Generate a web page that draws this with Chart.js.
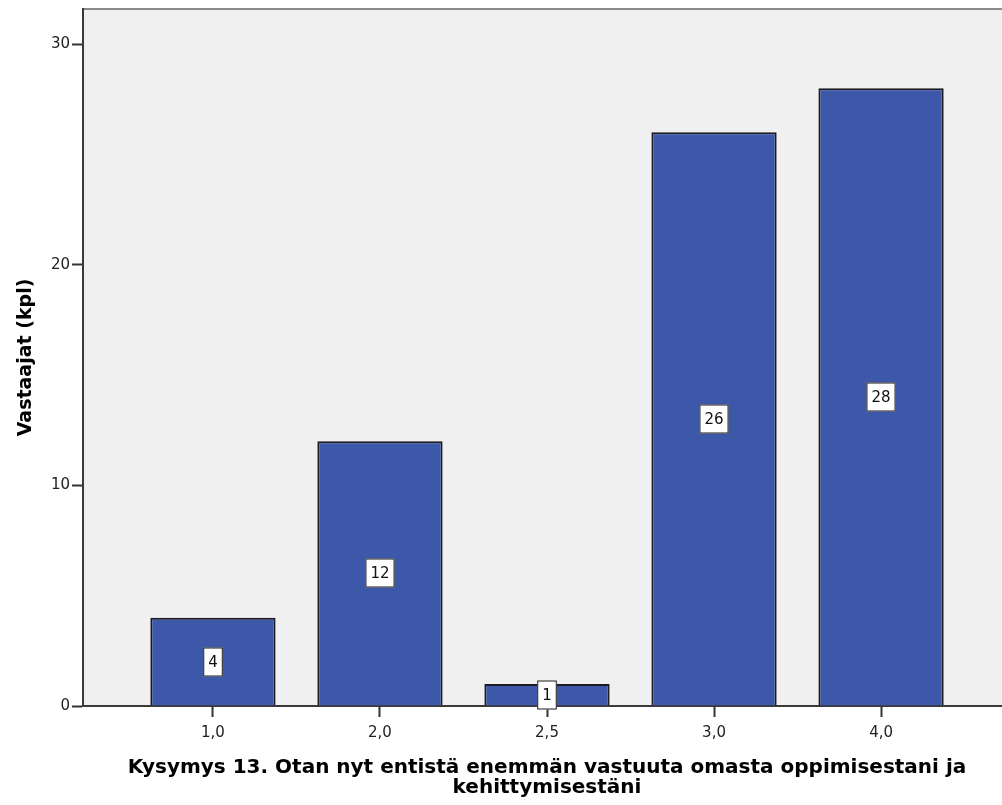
<!DOCTYPE html>
<html>
<head>
<meta charset="utf-8">
<script src="https://cdn.jsdelivr.net/npm/chart.js@4/dist/chart.umd.min.js"></script>
<style>
  html, body { margin: 0; padding: 0; background: #fff; overflow: hidden; }
  #wrap { position: absolute; left: 0; top: 0; width: 1011px; height: 805px; }
</style>
</head>
<body>
<div id="wrap"><canvas id="chart" width="1011" height="805"></canvas></div>
<script>
// values
let categories = ["1,0", "2,0", "2,5", "3,0", "4,0"];
let counts = [4, 12, 1, 26, 28];
let yTicks = [0, 10, 20, 30];

let xTitle = ["Kysymys 13. Otan nyt entistä enemmän vastuuta omasta oppimisestani ja", "kehittymisestäni"];
let yTitle = "Vastaajat (kpl)";

let points = counts.map((v, i) => ({ x: i, y: v }));

// gray plot area with thin top frame
const plotBack = {
    id: "plotBack",
    beforeDraw(chart) {
        let a = chart.chartArea;
        let ctx = chart.ctx;
        ctx.save();
        ctx.fillStyle = "#f0f0f0";
        ctx.fillRect(a.left, a.top, a.right - a.left, a.bottom - a.top);
        ctx.strokeStyle = "#8a8a8a";
        ctx.lineWidth = 2;
        ctx.beginPath();
        ctx.moveTo(a.left, a.top);
        ctx.lineTo(a.right, a.top);
        ctx.stroke();
        ctx.restore();
    }
};

// white boxed value labels in the middle of each bar
const valueBoxes = {
    id: "valueBoxes",
    afterDatasetsDraw(chart) {
        let ctx = chart.ctx;
        let meta = chart.getDatasetMeta(0);
        ctx.save();
        ctx.font = "15px 'DejaVu Sans'";
        ctx.textAlign = "center";
        ctx.textBaseline = "middle";
        meta.data.forEach((bar, i) => {
            let txt = String(counts[i]);
            let w = ctx.measureText(txt).width + 10;
            let h = 29;
            let cx = Math.round(bar.x);
            let cy = Math.round((bar.y + bar.base) / 2);
            ctx.fillStyle = "#ffffff";
            ctx.fillRect(cx - w / 2, cy - h / 2, w, h);
            ctx.strokeStyle = "#1a1a1a";
            ctx.lineWidth = 1;
            ctx.strokeRect(cx - w / 2 + 0.5, cy - h / 2 + 0.5, w - 1, h - 1);
            ctx.fillStyle = "#111";
            ctx.fillText(txt, cx, cy + 1);
        });
        ctx.restore();
    }
};

new Chart(document.getElementById("chart"), {
    type: "bar",
    data: {
        datasets: [{
            data: points,
            backgroundColor: "#3d57a9",
            borderColor: "#1a1a22",
            borderWidth: 2,
            categoryPercentage: 1,
            barPercentage: 0.75
        }]
    },
    options: {
        responsive: false,
        animation: false,
        devicePixelRatio: 1,
        layout: { padding: { top: 9, left: 0, right: 0, bottom: 0 } },
        plugins: {
            legend: { display: false },
            tooltip: { enabled: false }
        },
        scales: {
            x: {
                type: "linear",
                offset: false,
                min: -0.778,
                max: 4.778,
                afterBuildTicks: (scale) => {
                    scale.ticks = categories.map((c, i) => ({ value: i }));
                },
                afterFit: (scale) => {
                    scale.height = 99;
                    scale.paddingLeft = 0;
                    scale.paddingRight = 0;
                },
                ticks: {
                    callback: (v) => categories[v],
                    color: "#222",
                    font: { family: "DejaVu Sans", size: 15 },
                    padding: 7,
                    maxRotation: 0
                },
                grid: {
                    offset: false,
                    drawOnChartArea: false,
                    drawTicks: true,
                    tickLength: 11,
                    tickColor: "#333",
                    tickWidth: 2
                },
                border: { display: true, color: "#3a3a3a", width: 2 },
                title: {
                    display: true,
                    text: xTitle,
                    color: "#000",
                    font: { family: "DejaVu Sans", size: 20, weight: "bold", lineHeight: 1 },
                    padding: { top: 0, bottom: 7 }
                }
            },
            y: {
                min: 0,
                max: 31.59,
                afterBuildTicks: (scale) => {
                    scale.ticks = yTicks.map(v => ({ value: v }));
                },
                afterFit: (scale) => {
                    scale.width = 83;
                    scale.paddingTop = 0;
                    scale.paddingBottom = 0;
                },
                ticks: {
                    color: "#222",
                    font: { family: "DejaVu Sans", size: 15 },
                    padding: 2
                },
                grid: {
                    drawOnChartArea: false,
                    drawTicks: true,
                    tickLength: 11,
                    tickColor: "#333",
                    tickWidth: 2
                },
                border: { display: true, color: "#3a3a3a", width: 2 },
                title: {
                    display: true,
                    text: yTitle,
                    color: "#000",
                    font: { family: "DejaVu Sans", size: 19, weight: "bold", lineHeight: 20 / 19 },
                    padding: { top: 16, bottom: 0 }
                }
            }
        }
    },
    plugins: [plotBack, valueBoxes]
});
</script>
</body>
</html>
